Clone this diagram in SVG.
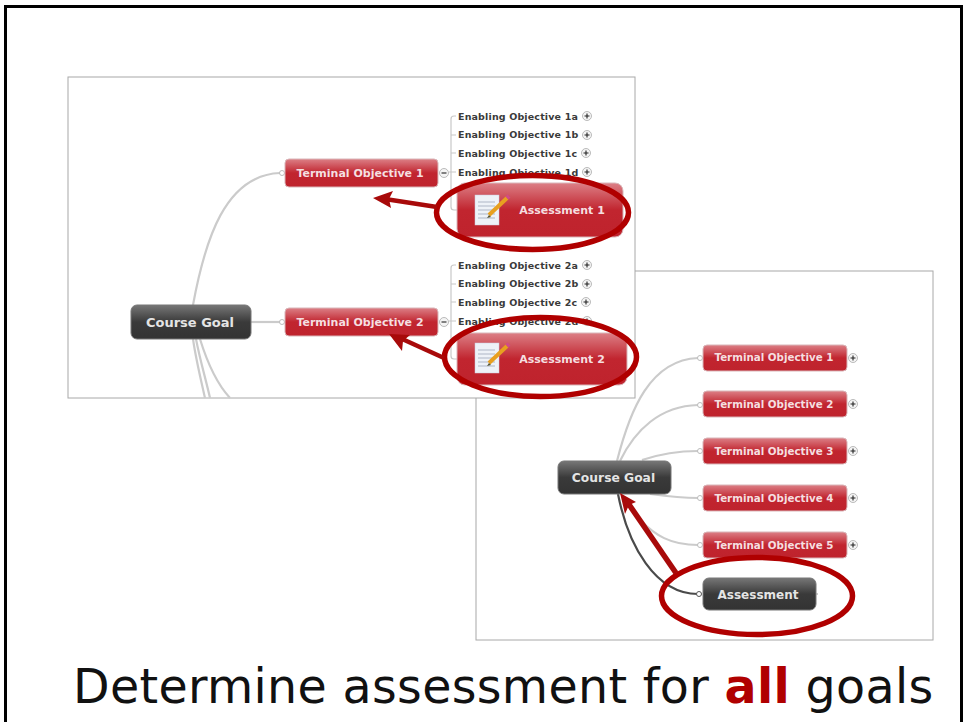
<svg xmlns="http://www.w3.org/2000/svg" width="963" height="722" viewBox="0 0 963 722">
<style>
text{font-family:"DejaVu Sans","Liberation Sans",sans-serif}
.panel{fill:#fff;stroke:#a8a8a8;stroke-width:1}
.red{fill:url(#redg);stroke:#d9b5b8;stroke-width:1}
.dark{fill:url(#darkg);stroke:#777;stroke-width:1}
.tl{font-size:11px;font-weight:bold;fill:#f5dfe0;text-anchor:middle}
.tm{font-size:10.300px;font-weight:bold;fill:#f5dfe0;text-anchor:middle}
.gl{font-size:13px;font-weight:bold;fill:#e4e4e4;text-anchor:middle}
.eo{font-size:9.500px;font-weight:bold;fill:#3a3a3a;letter-spacing:.15px}
.c{fill:none;stroke:#cbcbcb;stroke-width:2.200}
.t{fill:none;stroke:#c8c8c8;stroke-width:1.200}
.dot{fill:#fff;stroke:#bbb;stroke-width:1}
.btn{fill:#f4f4f4;stroke:#aaa;stroke-width:.8}
.sym{stroke:#222;stroke-width:1.100;fill:none}
.ring{fill:none;stroke:#b00000;stroke-width:5.500}
.arr{fill:none;stroke:#a80a0a;stroke-width:4.500}
.head{fill:#a80a0a}
</style>
<defs>
<linearGradient id="redg" x1="0" y1="0" x2="0" y2="1"><stop offset="0" stop-color="#dc7f86"/><stop offset=".5" stop-color="#c1252f"/><stop offset="1" stop-color="#bf232d"/></linearGradient>
<linearGradient id="darkg" x1="0" y1="0" x2="0" y2="1"><stop offset="0" stop-color="#777"/><stop offset=".5" stop-color="#3a3a3a"/><stop offset="1" stop-color="#333"/></linearGradient>
<g id="doc">
<rect x="0" y="0" width="24" height="30" fill="#eef2f8" stroke="#ccd" stroke-width=".5"/>
<path d="M3 7H20M3 11H20M3 15H20M3 19H20M3 23H20" stroke="#aeb6c6" stroke-width="1"/>
<path d="M14 20L32 3" stroke="#e8a020" stroke-width="4"/>
<path d="M14 20L12 23 16 22Z" fill="#553"/>
<path d="M32 3L34 1" stroke="#d04a8a" stroke-width="4"/>
</g>
<g id="plus"><circle r="4.500" class="btn"/><path class="sym" d="M-2.500 0H2.500M0-2.500V2.500"/></g>
<g id="minus"><circle r="4.500" class="btn"/><path class="sym" d="M-2.500 0H2.500" stroke="#555"/></g>
</defs>

<rect id="page" x="0" y="0" width="963" height="722" fill="#fff"/>
<path id="frame" d="M5.500 722V6.500H961.500V722" fill="none" stroke="#000" stroke-width="3"/>

<g id="panel-2"><rect class="panel" x="476" y="271" width="457" height="369"/></g>

<g id="connectors-2">
<path class="c" d="M617 461C630 410 650 360 698 358"/>
<path class="c" d="M620 461C635 430 660 406 698 405"/>
<path class="c" d="M642 460C660 454 675 451 698 451"/>
<path class="c" d="M650 494C665 496 680 498 698 498"/>
<path class="c" d="M640 520C655 535 670 545 698 545"/>
<path d="M618 494C628 545 655 594 698 594" fill="none" stroke="#4a4a4a" stroke-width="2.200"/>
</g>
<g id="t2-1"><circle class="dot" cx="700" cy="358" r="2.500"/><rect class="red" x="703" y="345" width="144" height="26" rx="4"/><text class="tm" x="774" y="361">Terminal Objective 1</text><use href="#plus" x="853" y="358"/></g>
<g id="t2-2"><circle class="dot" cx="700" cy="405" r="2.500"/><rect class="red" x="703" y="391" width="144" height="26" rx="4"/><text class="tm" x="774" y="408">Terminal Objective 2</text><use href="#plus" x="853" y="404"/></g>
<g id="t2-3"><circle class="dot" cx="700" cy="451" r="2.500"/><rect class="red" x="703" y="438" width="144" height="26" rx="4"/><text class="tm" x="774" y="455">Terminal Objective 3</text><use href="#plus" x="853" y="451"/></g>
<g id="t2-4"><circle class="dot" cx="700" cy="498" r="2.500"/><rect class="red" x="703" y="485" width="144" height="26" rx="4"/><text class="tm" x="774" y="502">Terminal Objective 4</text><use href="#plus" x="853" y="498"/></g>
<g id="t2-5"><circle class="dot" cx="700" cy="545" r="2.500"/><rect class="red" x="703" y="532" width="144" height="26" rx="4"/><text class="tm" x="774" y="549">Terminal Objective 5</text><use href="#plus" x="853" y="545"/></g>
<g id="goal-2"><rect class="dark" x="558" y="461" width="113" height="33" rx="6"/><text class="gl" x="613.500" y="482" style="font-size:12.300px">Course Goal</text></g>
<g id="assess-all"><circle cx="699" cy="594" r="2.500" fill="#fff" stroke="#555"/><rect class="dark" x="703" y="578" width="113" height="32" rx="6"/><text class="gl" x="758" y="599" style="font-size:12px">Assessment</text><path d="M816 594h2" stroke="#999"/></g>

<g id="panel-1"><rect class="panel" x="68" y="77" width="567" height="321"/></g>

<g id="connectors-1">
<path class="c" d="M193 305C205 240 225 175 280 173"/>
<path class="c" d="M251 322H280"/>
<path class="c" d="M193 339C196 360 201 380 205 398"/>
<path class="c" d="M196 339C200 360 206 380 210 398"/>
<path class="c" d="M200 339C208 365 218 385 230 398"/>
<path class="t" d="M451 172H449M456 116H454Q451 116 451 119V207Q451 210 454 210H458M451 135H456M451 153H456M451 172H456"/>
<path class="t" d="M451 321H449M456 265H454Q451 265 451 268V356Q451 359 454 359H458M451 284H456M451 302H456M451 321H456"/>
</g>

<g id="t1-1"><circle class="dot" cx="282" cy="173" r="2.500"/><rect class="red" x="285" y="159" width="153" height="28" rx="4"/><text class="tl" x="360" y="177">Terminal Objective 1</text><use href="#minus" x="444" y="173"/></g>
<g id="e1a"><text class="eo" x="458" y="120">Enabling Objective 1a</text><use href="#plus" x="587" y="116"/></g>
<g id="e1b"><text class="eo" x="458" y="138">Enabling Objective 1b</text><use href="#plus" x="587" y="135"/></g>
<g id="e1c"><text class="eo" x="458" y="157">Enabling Objective 1c</text><use href="#plus" x="586" y="153"/></g>
<g id="e1d"><text class="eo" x="458" y="176">Enabling Objective 1d</text><use href="#plus" x="587" y="172"/></g>
<g id="assess-1"><rect class="red" x="457" y="183" width="166" height="54" rx="8"/><use href="#doc" x="475" y="195"/><text class="tl" x="562" y="214">Assessment 1</text></g>

<g id="t1-2"><circle class="dot" cx="282" cy="322" r="2.500"/><rect class="red" x="285" y="308" width="153" height="28" rx="4"/><text class="tl" x="360" y="326">Terminal Objective 2</text><use href="#minus" x="444" y="322"/></g>
<g id="e2a"><text class="eo" x="458" y="269">Enabling Objective 2a</text><use href="#plus" x="587" y="265"/></g>
<g id="e2b"><text class="eo" x="458" y="287">Enabling Objective 2b</text><use href="#plus" x="587" y="284"/></g>
<g id="e2c"><text class="eo" x="458" y="306">Enabling Objective 2c</text><use href="#plus" x="586" y="302"/></g>
<g id="e2d"><text class="eo" x="458" y="325">Enabling Objective 2d</text><use href="#plus" x="587" y="321"/></g>
<g id="assess-2"><rect class="red" x="457" y="333" width="170" height="52" rx="8"/><use href="#doc" x="475" y="343"/><text class="tl" x="562" y="363">Assessment 2</text></g>
<g id="goal-1"><rect class="dark" x="131" y="305" width="120" height="34" rx="6"/><text class="gl" x="190" y="327">Course Goal</text></g>

<g id="callouts">
<ellipse class="ring" cx="532.500" cy="212.500" rx="96" ry="37"/>
<path class="arr" d="M437 207L385 199"/><path class="head" d="M373 198L393 191 389 199 391 208Z"/>
<ellipse class="ring" cx="540.500" cy="357" rx="96" ry="39.500"/>
<path class="arr" d="M444 358L400 338"/><path class="head" d="M389 334L410 335 403 341 402 351Z"/>
<ellipse class="ring" cx="757" cy="596" rx="95.500" ry="38.500"/>
<path class="arr" style="stroke-width:5.500" d="M676 573L628 503"/><path class="head" d="M620 493L636 502 629 505 625 514Z"/>
</g>

<text id="caption" x="73" y="703" font-size="47.500" fill="#111" letter-spacing=".33">Determine assessment for <tspan font-weight="bold" fill="#b00000">all</tspan> goals</text>
</svg>
